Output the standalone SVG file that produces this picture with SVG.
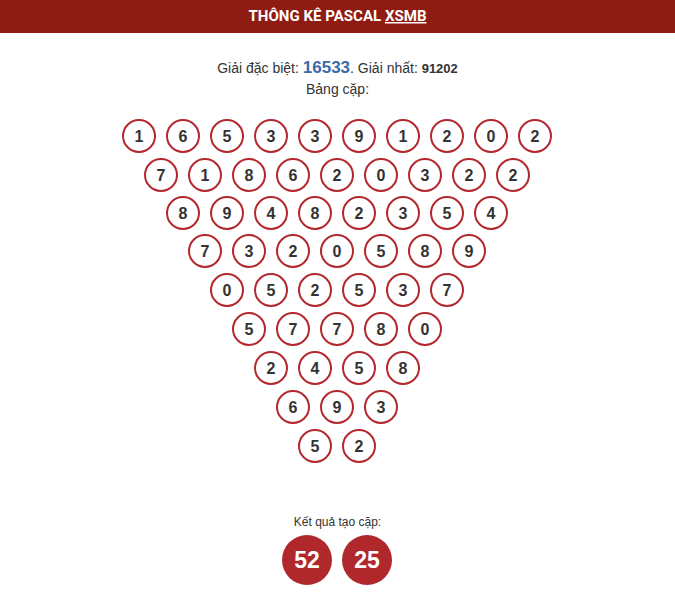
<svg xmlns="http://www.w3.org/2000/svg" width="675" height="592" viewBox="0 0 675 592">
<style>
.c circle{fill:#fff;stroke:#b3282d;stroke-width:2}
.c text{font-family:"Liberation Sans",Arial,sans-serif;font-weight:bold;font-size:16px;fill:#333;text-anchor:middle}
.t{font-family:"Liberation Sans",Arial,sans-serif;font-size:14px;fill:#333}
.r circle{fill:#b0282c}
.r text{font-family:"Liberation Sans",Arial,sans-serif;font-weight:bold;font-size:23px;fill:#fff;text-anchor:middle}
</style>
<rect width="675" height="592" fill="#fff"/>
<g id="header">
<rect x="0" y="0" width="675" height="33" fill="#8f1c13"/>
<text x="337.5" y="21" font-family="Roboto,sans-serif" font-weight="bold" font-size="15" fill="#fff" text-anchor="middle" textLength="178" lengthAdjust="spacingAndGlyphs">THÔNG KÊ PASCAL <tspan text-decoration="underline">XSMB</tspan></text>
</g>
<g id="info">
<text class="t" x="337.5" y="73" text-anchor="middle">Giải đặc biệt: <tspan font-weight="bold" font-size="17" fill="#3b6aa8">16533</tspan>. Giải nhất: <tspan font-weight="bold" font-size="13">91202</tspan></text>
<text class="t" x="337.5" y="94" text-anchor="middle">Bảng cặp:</text>
</g>
<g id="row1" class="c">
<circle cx="139" cy="136" r="16"/><text x="139" y="142">1</text>
<circle cx="183" cy="136" r="16"/><text x="183" y="142">6</text>
<circle cx="227" cy="136" r="16"/><text x="227" y="142">5</text>
<circle cx="271" cy="136" r="16"/><text x="271" y="142">3</text>
<circle cx="315" cy="136" r="16"/><text x="315" y="142">3</text>
<circle cx="359" cy="136" r="16"/><text x="359" y="142">9</text>
<circle cx="403" cy="136" r="16"/><text x="403" y="142">1</text>
<circle cx="447" cy="136" r="16"/><text x="447" y="142">2</text>
<circle cx="491" cy="136" r="16"/><text x="491" y="142">0</text>
<circle cx="535" cy="136" r="16"/><text x="535" y="142">2</text>
</g>
<g id="row2" class="c">
<circle cx="161" cy="175" r="16"/><text x="161" y="181">7</text>
<circle cx="205" cy="175" r="16"/><text x="205" y="181">1</text>
<circle cx="249" cy="175" r="16"/><text x="249" y="181">8</text>
<circle cx="293" cy="175" r="16"/><text x="293" y="181">6</text>
<circle cx="337" cy="175" r="16"/><text x="337" y="181">2</text>
<circle cx="381" cy="175" r="16"/><text x="381" y="181">0</text>
<circle cx="425" cy="175" r="16"/><text x="425" y="181">3</text>
<circle cx="469" cy="175" r="16"/><text x="469" y="181">2</text>
<circle cx="513" cy="175" r="16"/><text x="513" y="181">2</text>
</g>
<g id="row3" class="c">
<circle cx="183" cy="213" r="16"/><text x="183" y="219">8</text>
<circle cx="227" cy="213" r="16"/><text x="227" y="219">9</text>
<circle cx="271" cy="213" r="16"/><text x="271" y="219">4</text>
<circle cx="315" cy="213" r="16"/><text x="315" y="219">8</text>
<circle cx="359" cy="213" r="16"/><text x="359" y="219">2</text>
<circle cx="403" cy="213" r="16"/><text x="403" y="219">3</text>
<circle cx="447" cy="213" r="16"/><text x="447" y="219">5</text>
<circle cx="491" cy="213" r="16"/><text x="491" y="219">4</text>
</g>
<g id="row4" class="c">
<circle cx="205" cy="251" r="16"/><text x="205" y="257">7</text>
<circle cx="249" cy="251" r="16"/><text x="249" y="257">3</text>
<circle cx="293" cy="251" r="16"/><text x="293" y="257">2</text>
<circle cx="337" cy="251" r="16"/><text x="337" y="257">0</text>
<circle cx="381" cy="251" r="16"/><text x="381" y="257">5</text>
<circle cx="425" cy="251" r="16"/><text x="425" y="257">8</text>
<circle cx="469" cy="251" r="16"/><text x="469" y="257">9</text>
</g>
<g id="row5" class="c">
<circle cx="227" cy="290" r="16"/><text x="227" y="296">0</text>
<circle cx="271" cy="290" r="16"/><text x="271" y="296">5</text>
<circle cx="315" cy="290" r="16"/><text x="315" y="296">2</text>
<circle cx="359" cy="290" r="16"/><text x="359" y="296">5</text>
<circle cx="403" cy="290" r="16"/><text x="403" y="296">3</text>
<circle cx="447" cy="290" r="16"/><text x="447" y="296">7</text>
</g>
<g id="row6" class="c">
<circle cx="249" cy="329" r="16"/><text x="249" y="335">5</text>
<circle cx="293" cy="329" r="16"/><text x="293" y="335">7</text>
<circle cx="337" cy="329" r="16"/><text x="337" y="335">7</text>
<circle cx="381" cy="329" r="16"/><text x="381" y="335">8</text>
<circle cx="425" cy="329" r="16"/><text x="425" y="335">0</text>
</g>
<g id="row7" class="c">
<circle cx="271" cy="368" r="16"/><text x="271" y="374">2</text>
<circle cx="315" cy="368" r="16"/><text x="315" y="374">4</text>
<circle cx="359" cy="368" r="16"/><text x="359" y="374">5</text>
<circle cx="403" cy="368" r="16"/><text x="403" y="374">8</text>
</g>
<g id="row8" class="c">
<circle cx="293" cy="407" r="16"/><text x="293" y="413">6</text>
<circle cx="337" cy="407" r="16"/><text x="337" y="413">9</text>
<circle cx="381" cy="407" r="16"/><text x="381" y="413">3</text>
</g>
<g id="row9" class="c">
<circle cx="315" cy="446" r="16"/><text x="315" y="452">5</text>
<circle cx="359" cy="446" r="16"/><text x="359" y="452">2</text>
</g>
<g id="result">
<text class="t" x="337.5" y="526" text-anchor="middle" style="font-size:12px">Kết quả tạo cặp:</text>
<g class="r">
<circle cx="307" cy="560" r="25"/><text x="307" y="568">52</text>
<circle cx="367" cy="560" r="25"/><text x="367" y="568">25</text>
</g>
</g>
</svg>
